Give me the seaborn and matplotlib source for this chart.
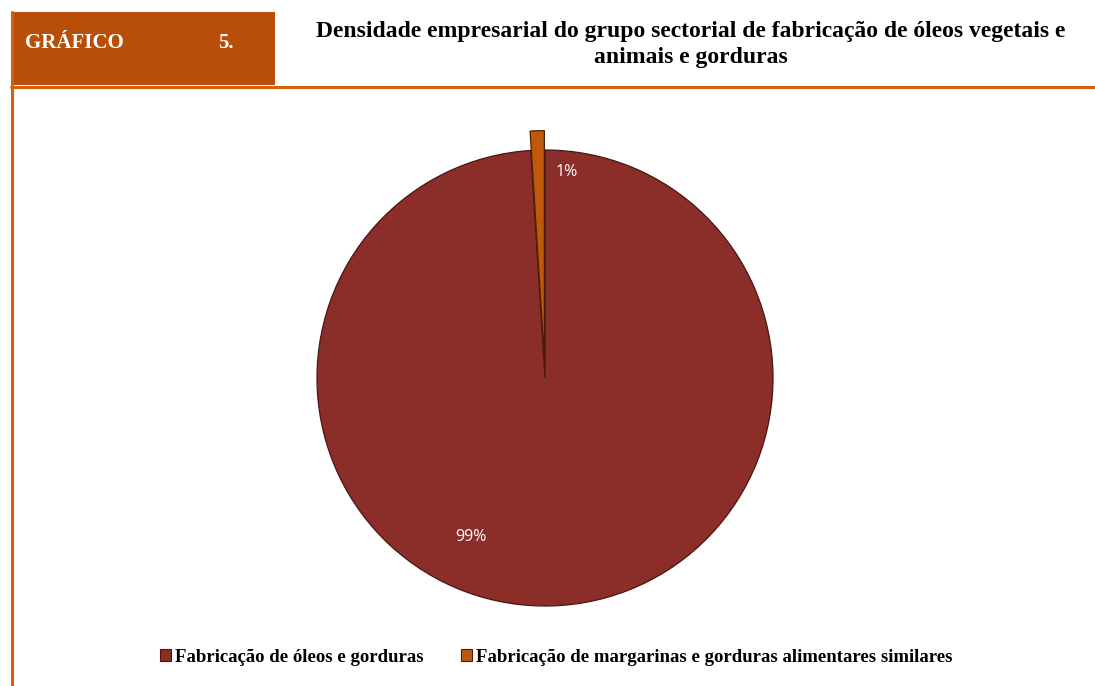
import matplotlib
matplotlib.use("Agg")
import matplotlib.pyplot as plt
from matplotlib.patches import Rectangle
from matplotlib.lines import Line2D
import seaborn as sns

# Data
categories = ["Fabricação de óleos e gorduras",
              "Fabricação de margarinas e gorduras alimentares similares"]
shares = [99, 1]
share_labels = ["99%", "1%"]

title_lines = ["Densidade empresarial do grupo sectorial de fabricação de óleos vegetais e",
               "animais e gorduras"]

sns.set_theme(style="white")
plt.rcParams["font.family"] = ["Liberation Serif", "DejaVu Serif"]
plt.rcParams["text.color"] = "black"

W, H = 1095, 686
fig = plt.figure(figsize=(W / 100, H / 100), dpi=100)
fig.patch.set_facecolor("white")

slice_colors = ["#8B2E2A", "#C0580B"]
edge_colors = ["#4a1512", "#4a2005"]

# Pie axes: centre (545, 378) px, radius 228 px
cx, cy, r = 545, 378, 228
half = 300
ax = fig.add_axes([(cx - half) / W, (H - cy - half) / H, 2 * half / W, 2 * half / H])
wedges, _ = ax.pie(shares, colors=slice_colors, startangle=90, counterclock=False,
                   explode=[0, 0.085], radius=1.0,
                   wedgeprops=dict(linewidth=0.9))
for w, ec in zip(wedges, edge_colors):
    w.set_edgecolor(ec)
lim = half / r
ax.set_xlim(-lim, lim)
ax.set_ylim(-lim, lim)
ax.set_aspect("equal")
ax.axis("off")

# Percentage labels
label_pos = [(-74 / r, -159 / r), (22 / r, 206 / r)]
for txt, (x, y) in zip(share_labels, label_pos):
    ax.text(x, y, txt, color="white", fontsize=11.5, ha="center", va="center",
            family=["Open Sans", "DejaVu Sans"])

# Header frame
line_col = "#D2600F"
fig.add_artist(Rectangle((11 / W, 1 - 85 / H), 264 / W, 73 / H,
                         transform=fig.transFigure, facecolor="#B84E07",
                         edgecolor="none", zorder=1))
fig.add_artist(Line2D([11.5 / W, 11.5 / W], [1 - 12 / H, 0], transform=fig.transFigure,
                      color=line_col, linewidth=2.2))
fig.add_artist(Line2D([11 / W, 1], [1 - 86.5 / H, 1 - 86.5 / H], transform=fig.transFigure,
                      color=line_col, linewidth=2.2))

fig.text(25 / W, 1 - 43 / H, "GRÁFICO", color="white", fontsize=15, fontweight="bold",
         ha="left", va="center")
fig.text(218 / W, 1 - 43 / H, "5.", color="white", fontsize=15, fontweight="bold",
         ha="left", va="center")

fig.text(691 / W, 1 - 31 / H, title_lines[0], fontsize=17, fontweight="bold",
         ha="center", va="center", color="black")
fig.text(691 / W, 1 - 58 / H, title_lines[1], fontsize=17, fontweight="bold",
         ha="center", va="center", color="black")

# Legend
handles = [Rectangle((0, 0), 1, 1, facecolor=c, edgecolor=e, linewidth=0.8)
           for c, e in zip(slice_colors, edge_colors)]
fig.legend(handles, categories, loc="center", bbox_to_anchor=(556 / W, 1 - 657 / H),
           ncol=2, frameon=False, handlelength=0.6, handleheight=0.6,
           handletextpad=0.2, columnspacing=2.0, labelcolor="black",
           prop=dict(weight="bold", size=13.5))

fig.savefig("out.png", dpi=100, facecolor="white")
